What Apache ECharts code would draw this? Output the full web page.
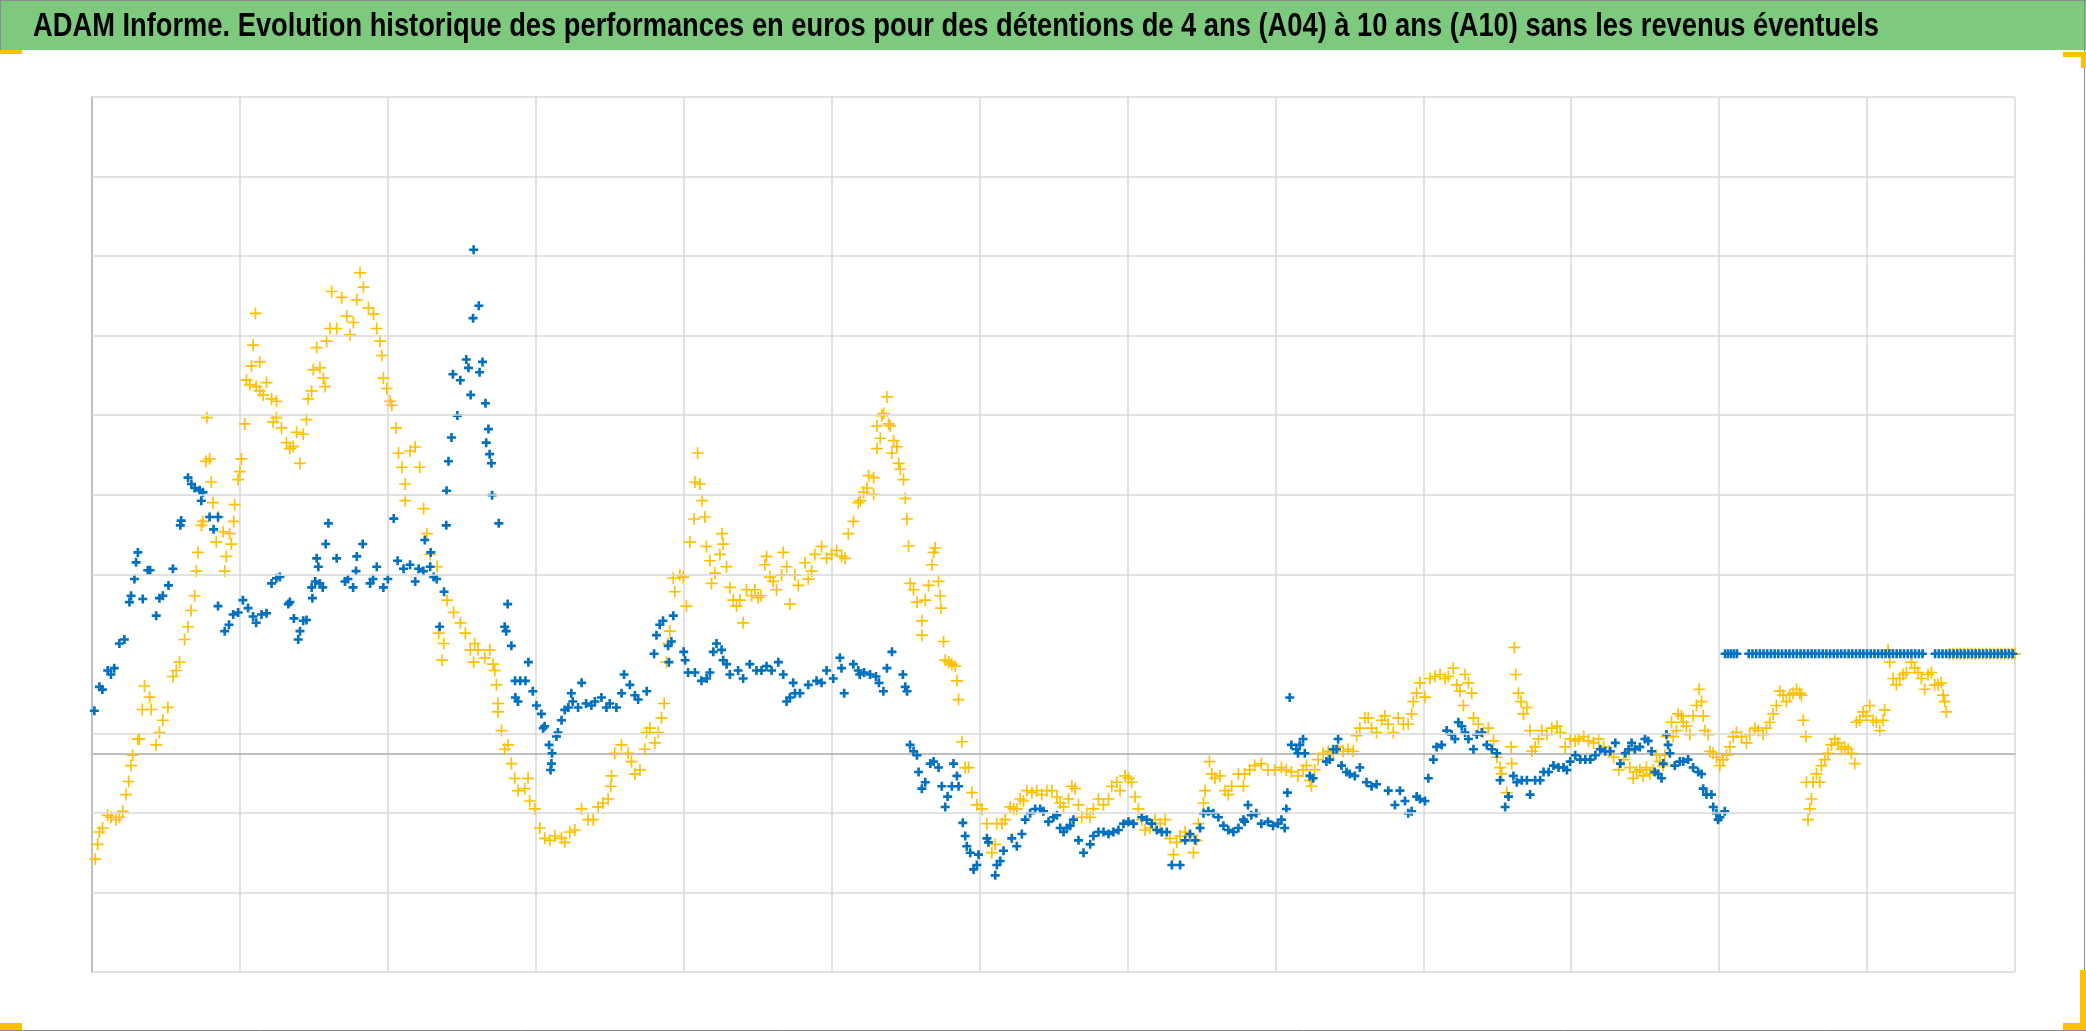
<!DOCTYPE html>
<html>
<head>
<meta charset="utf-8">
<script src="https://cdn.jsdelivr.net/npm/echarts@6/dist/echarts.min.js"></script>
<style>
html,body{margin:0;padding:0;background:#fff;}
#chart{width:2086px;height:1031px;}
</style>
</head>
<body>
<div id="chart"></div>
<script>
const titleText = "ADAM Informe. Evolution historique des performances en euros pour des détentions de 4 ans (A04) à 10 ans (A10) sans les revenus éventuels";

// axis ranges / grid values (no labels are shown in the reference)
const xRange = [0, 13];
const yRange = [-55, 165];
const yGridValues = [-55, -35, -15, 5, 45, 65, 85, 105, 125, 145, 165];

// blue series [x, value]
const blueSeries = [
[0.016,10.7],[0.05,16.7],[0.07,16],[0.106,20.8],[0.128,19.8],[0.15,21.4],[0.185,27.6],[0.219,28.6],[0.253,38],[0.264,39.6],[0.287,43.8],[0.298,48],[0.31,50.5],[0.343,38.8],[0.377,46],[0.393,46],[0.434,34.6],[0.456,39],[0.479,39.6],[0.517,42.2],[0.547,46.4],[0.597,57.3],[0.603,58.5],[0.649,69.3],[0.672,67.7],[0.694,66.7],[0.728,66.1],[0.739,63.5],[0.75,65.6],[0.795,59.4],[0.822,56.3],[0.852,59.4],[0.852,37],[0.897,30.7],[0.926,32.3],[0.954,34.9],[0.988,35.4],
[1.02,38.5],[1.055,36.5],[1.089,34.4],[1.11,32.8],[1.146,34.9],[1.18,35.2],[1.214,42.7],[1.247,44],[1.27,44.3],[1.327,37.5],[1.338,38],[1.365,33.9],[1.394,28.6],[1.406,30.7],[1.428,33.3],[1.45,33.5],[1.485,41.7],[1.49,39],[1.51,43.2],[1.519,49],[1.53,46.9],[1.54,42.7],[1.56,41.7],[1.58,52.6],[1.598,57.8],[1.654,49],[1.71,43.2],[1.73,43.8],[1.765,41.7],[1.79,49.5],[1.785,45.8],[1.83,52.6],[1.88,42.7],[1.9,43.8],[1.925,46.9],[1.97,41.7],
[2.0,43.8],[2.04,59],[2.066,48.4],[2.106,46.4],[2.15,47.4],[2.185,43.2],[2.208,46.4],[2.24,45.8],[2.25,53.6],[2.286,46.9],[2.29,50.5],[2.31,44.3],[2.33,43.8],[2.35,31.8],[2.38,40.6],[2.395,57.3],[2.397,66],[2.41,73.4],[2.43,79.4],[2.44,95.3],[2.47,84.9],[2.49,93.8],[2.53,99],[2.545,96.9],[2.56,90.1],[2.576,109.4],[2.58,126.6],
[2.615,112.5],[2.62,95.8],[2.64,98.4],[2.66,88],[2.665,78.1],[2.68,81.5],[2.688,75.2],[2.7,72.9],[2.705,64.9],[2.75,57.8],[2.79,31.8],[2.8,30.7],[2.81,37.5],[2.835,27],[2.86,18.2],[2.862,14],[2.88,13],[2.895,18.2],[2.93,18.2],[2.95,22.9],[2.98,15.6],
[3.005,12],[3.038,9.9],[3.05,6.3],[3.06,6.8],[3.09,2.1],[3.1,-4.2],[3.106,-2.6],[3.11,0],[3.14,4.2],[3.15,5.2],[3.174,8.3],[3.196,10.9],[3.22,11.5],[3.24,15.1],[3.25,13],[3.286,11.5],[3.31,17.7],[3.34,12.5],[3.376,12],[3.4,13],[3.444,14],[3.478,11.5],[3.5,12.5],[3.545,11.5],[3.58,15.1],[3.597,19.8],[3.636,17.2],[3.67,14.6],[3.692,13.5],[3.75,15.6],[3.8,25],[3.816,29.7],[3.838,32.3],[3.86,33.3],[3.895,27],[3.9,22.9],[3.917,28.1],[3.93,34.6],
[4.0,25.5],[4.01,23.4],[4.03,20.3],[4.076,20.3],[4.12,18.2],[4.155,18.8],[4.177,20.3],[4.2,25.5],[4.222,27.6],[4.256,26],[4.267,23.4],[4.29,22.4],[4.312,19.8],[4.368,20.8],[4.402,18.8],[4.447,22.4],[4.492,20.8],[4.526,20.8],[4.56,21.9],[4.594,20.8],[4.64,22.9],[4.673,19.8],[4.696,13],[4.718,14],[4.74,17.7],[4.752,15.1],[4.786,15.1],[4.842,17.2],[4.898,18.2],[4.932,17.7],[4.966,20.8],
[5.011,18.8],[5.056,24],[5.067,21.4],[5.085,15.1],[5.147,22.4],[5.18,20.8],[5.19,19.8],[5.22,20.3],[5.26,19.8],[5.3,19.3],[5.32,17.7],[5.35,15.6],[5.374,21.4],[5.408,25.5],[5.482,19.8],[5.498,16.7],[5.51,15.6],[5.53,2.1],[5.554,0.5],[5.577,-0.5],[5.588,-4.7],[5.61,-8.9],[5.633,-7.3],[5.667,-2.6],[5.689,-2.1],[5.723,-3.6],[5.745,-8.3],[5.768,-13.5],[5.784,-10.9],[5.813,-8.3],[5.824,-2.6],[5.847,-5.7],[5.858,-8.3],[5.887,-17.5],[5.903,-20.8],[5.914,-23.4],[5.937,-25],[5.96,-29.2],[5.982,-28.1],[5.993,-25.5],
[6.05,-21.4],[6.06,-22.4],[6.106,-30.7],[6.117,-28.1],[6.14,-27.1],[6.162,-24.5],[6.218,-21.4],[6.252,-23.4],[6.286,-20.3],[6.309,-16.7],[6.342,-15.1],[6.376,-14],[6.41,-14],[6.432,-14.6],[6.466,-17.2],[6.5,-16.1],[6.523,-15.6],[6.545,-18.8],[6.568,-19.8],[6.59,-18.8],[6.613,-18.2],[6.635,-16.7],[6.669,-21.9],[6.703,-25],[6.748,-22.9],[6.77,-20.8],[6.804,-19.8],[6.838,-19.8],[6.872,-20.3],[6.905,-19.8],[6.939,-19.3],[6.973,-17.7],
[7.007,-17.2],[7.041,-17.7],[7.097,-16.1],[7.131,-16.7],[7.164,-17.7],[7.198,-19.3],[7.232,-19.8],[7.266,-19.8],[7.3,-28.1],[7.356,-28.1],[7.39,-21.9],[7.423,-20.3],[7.457,-21.9],[7.491,-18.8],[7.514,-15.1],[7.547,-14.6],[7.581,-15.1],[7.615,-16.1],[7.649,-18.2],[7.682,-19.3],[7.716,-19.8],[7.75,-18.8],[7.784,-16.7],[7.792,-17.2],[7.815,-13],[7.837,-15.6],[7.871,-15.1],[7.905,-17.7],[7.95,-17.2],[7.984,-18.2],
[8.018,-17.7],[8.041,-16.7],[8.063,-18.8],[8.074,-14],[8.081,-9.9],[8.097,14],[8.108,2.1],[8.142,1],[8.153,0],[8.165,2.1],[8.187,3.6],[8.199,0],[8.233,-5.7],[8.255,-6.3],[8.345,-2.1],[8.368,-1.6],[8.391,1],[8.413,1],[8.424,3.6],[8.447,-3.1],[8.481,-4.7],[8.503,-5.2],[8.537,-5.7],[8.571,-3.6],[8.616,-7.3],[8.65,-8.3],[8.684,-7.8],[8.763,-9.4],[8.808,-13],[8.842,-9.4],[8.876,-12],[8.898,-15.1],[8.921,-14.6],[8.955,-10.9],[8.977,-11.5],
[9.011,-12],[9.034,-6.3],[9.068,-1.6],[9.09,1.6],[9.124,2.1],[9.158,5.7],[9.192,4.7],[9.214,3.6],[9.237,7.8],[9.26,6.8],[9.282,5.2],[9.305,3.6],[9.339,1],[9.361,4.7],[9.395,5.2],[9.429,2.1],[9.463,1],[9.497,0],[9.519,-6.8],[9.553,-13.5],[9.576,-10.9],[9.609,-5.7],[9.632,-7.3],[9.666,-6.8],[9.7,-6.8],[9.722,-10.4],[9.756,-6.8],[9.79,-6.8],[9.813,-4.7],[9.847,-4.7],[9.88,-3.1],[9.914,-3.6],[9.948,-3.6],[9.971,-4.2],[9.993,-2.1],
[10.027,-0.5],[10.061,-1.6],[10.095,-1.6],[10.129,-1.6],[10.163,-0.5],[10.196,1],[10.23,0.5],[10.264,0.5],[10.298,2.6],[10.332,-2.6],[10.366,0],[10.388,1],[10.408,2.6],[10.43,1],[10.464,1.6],[10.498,3.6],[10.52,3.1],[10.543,0.5],[10.565,-4.7],[10.588,-5.2],[10.61,-6.3],[10.622,-2.6],[10.644,4.7],[10.655,2.1],[10.667,0],[10.7,-3.1],[10.734,-2.1],[10.757,-2.1],[10.79,-1.6],[10.824,-3.6],[10.858,-4.7],[10.881,-5.2],[10.892,-8.9],[10.914,-10.4],[10.948,-10.4],[10.96,-13.5],[10.982,-15.1],[10.993,-16.7],[11.005,-16.1],[11.038,-14.6],
[11.04,25],[11.06,25],[11.08,25],[11.10,25],[11.12,25],[11.20,25],[11.225,25],[11.25,25],[11.275,25],[11.30,25],[11.325,25],[11.35,25],[11.375,25],[11.40,25],[11.425,25],[11.45,25],[11.475,25],[11.50,25],[11.525,25],[11.55,25],[11.575,25],[11.60,25],[11.625,25],[11.65,25],[11.675,25],[11.70,25],[11.725,25],[11.75,25],[11.775,25],[11.80,25],[11.825,25],[11.85,25],[11.875,25],[11.90,25],[11.925,25],[11.95,25],[11.975,25],[12.00,25],[12.025,25],[12.05,25],[12.075,25],[12.10,25],[12.125,25],[12.15,25],[12.175,25],[12.20,25],[12.225,25],[12.25,25],[12.275,25],[12.30,25],[12.325,25],[12.35,25],[12.375,25],
[12.46,25],[12.485,25],[12.51,25],[12.535,25],[12.56,25],[12.585,25],[12.61,25],[12.635,25],[12.66,25],[12.685,25],[12.71,25],[12.735,25],[12.76,25],[12.785,25],[12.81,25],[12.835,25],[12.86,25],[12.885,25],[12.91,25],[12.935,25],[12.96,25],[12.985,25]
];

// yellow series [x, value]
const yellowSeries = [
[0.022,-26.6],[0.038,-22.9],[0.05,-19.8],[0.072,-18.8],[0.106,-15.6],[0.129,-16.1],[0.163,-16.7],[0.185,-16.1],[0.208,-14.6],[0.23,-10.4],[0.248,-7.1],[0.264,-3.1],[0.275,-0.5],[0.31,3.6],[0.32,3.6],[0.34,11],[0.355,16.9],[0.39,14.1],[0.4,11],[0.434,2.1],[0.456,5.2],[0.479,8.3],[0.513,11.5],[0.547,19.3],[0.57,20.8],[0.592,22.9],[0.626,28.6],[0.649,31.8],[0.67,35.9],[0.694,39.6],[0.705,45.8],[0.716,50.5],[0.74,57.3],[0.75,58.3],[0.77,73.4],[0.777,84.4],[0.795,74],[0.806,68.2],[0.818,63],[0.84,53.1],[0.852,59.4],[0.886,55.7],[0.897,45.8],[0.908,49.5],[0.931,55.2],[0.942,52.6],[0.958,58.3],[0.965,62.5],[0.988,68.8],
[1.0,70.8],[1.01,74],[1.033,82.8],[1.044,93.8],[1.067,92.7],[1.078,97.4],[1.089,102.6],[1.105,110.6],[1.11,92.2],[1.134,98.4],[1.134,91.1],[1.157,90.1],[1.18,93.2],[1.214,89.1],[1.225,83.3],[1.247,88.5],[1.247,84.4],[1.281,81.8],[1.315,78.1],[1.338,76.6],[1.36,77.1],[1.383,80.7],[1.406,72.9],[1.428,80.2],[1.45,83.9],[1.462,89.1],[1.485,91.1],[1.496,96.4],[1.519,102],[1.541,96.9],[1.564,94.3],[1.575,92.2],[1.586,103.6],[1.609,106.8],[1.62,116.1],[1.654,106.8],[1.688,114.6],[1.722,109.9],[1.745,105.2],[1.767,108.3],[1.79,114],[1.812,120.8],[1.835,117.2],[1.869,112],[1.903,110.4],[1.925,106.8],[1.948,103.6],[1.959,100],[1.97,94.3],[1.993,91.7],
[2.016,88.5],[2.027,87.5],[2.056,81.8],[2.072,75.5],[2.095,71.9],[2.117,67.7],[2.117,63.5],[2.151,76],[2.185,77],[2.215,71.9],[2.242,61.5],[2.264,55.2],[2.287,50],[2.332,46.9],[2.344,30.2],[2.366,23.4],[2.378,27.6],[2.4,38.5],[2.445,35.4],[2.49,32.8],[2.524,30.2],[2.558,26],[2.58,22.9],[2.587,27.6],[2.61,26],[2.655,24],[2.689,26],[2.711,22.4],[2.723,20.8],[2.734,17.2],[2.745,12.5],[2.745,10.4],[2.768,5.7],[2.79,1],[2.813,2.1],[2.835,-2.6],[2.858,-6.3],[2.88,-9.4],[2.926,-8.9],[2.948,-6.3],[2.959,-12],[2.993,-14],
[3.027,-18.8],[3.061,-21.4],[3.095,-21.9],[3.129,-20.8],[3.174,-21.4],[3.196,-22.4],[3.23,-19.8],[3.264,-19.3],[3.309,-14],[3.354,-16.7],[3.388,-16.7],[3.422,-13.5],[3.455,-12.5],[3.489,-11.5],[3.507,-8.3],[3.512,-5.7],[3.534,0],[3.579,2.1],[3.625,0],[3.647,-2.1],[3.67,-5.2],[3.704,-4.2],[3.737,1],[3.749,5.2],[3.771,6.3],[3.805,2.6],[3.828,5.2],[3.85,8.9],[3.868,12.5],[3.884,22.9],[3.895,27.6],[3.906,30.7],[3.929,44],[3.94,40.6],[3.974,44.8],[3.997,44.3],
[4.019,37],[4.042,53.1],[4.071,58.9],[4.076,68.2],[4.094,75.5],[4.109,67.7],[4.125,63.5],[4.143,59.4],[4.154,52],[4.177,48.4],[4.188,42.7],[4.211,45.3],[4.245,50],[4.26,55.2],[4.267,52.6],[4.29,46.9],[4.312,41.7],[4.335,38.5],[4.357,37],[4.38,38.5],[4.402,32.8],[4.425,41.1],[4.459,39.6],[4.481,41.1],[4.504,39.1],[4.522,39.6],[4.549,47.4],[4.56,49.5],[4.583,44.3],[4.605,43.2],[4.628,41.1],[4.662,44.8],[4.673,50.5],[4.696,46.9],[4.718,37.5],[4.752,44.8],[4.775,42.2],[4.82,47.9],[4.842,43.8],[4.865,45.8],[4.887,50],[4.932,52],[4.966,49],
[5.0,50],[5.034,51],[5.068,49.5],[5.09,49],[5.113,55.2],[5.147,58.3],[5.18,63],[5.194,63.5],[5.216,65.6],[5.239,66.7],[5.25,69.8],[5.284,69.3],[5.284,65.1],[5.306,76.6],[5.306,82.3],[5.329,79.2],[5.34,84.9],[5.351,85.4],[5.374,89.6],[5.385,82.8],[5.396,82.3],[5.408,75.5],[5.419,78.6],[5.441,77.1],[5.453,72.9],[5.464,71.4],[5.486,68.8],[5.498,64.1],[5.509,58.9],[5.52,52.1],[5.532,42.7],[5.554,41.1],[5.577,38],[5.61,33.3],[5.61,29.7],[5.633,38.5],[5.655,42.2],[5.678,47.4],[5.689,50.5],[5.7,51.6],[5.723,43.2],[5.734,39.6],[5.739,36.5],[5.757,28.1],[5.768,23.4],[5.791,22.9],[5.813,22.4],[5.836,21.9],[5.847,18.2],[5.858,13.5],[5.881,2.9],[5.903,-3.6],[5.926,-3.6],[5.948,-9.9],[5.982,-13],
[6.016,-14],[6.05,-17.7],[6.083,-25],[6.106,-22.9],[6.117,-17.7],[6.151,-17.7],[6.173,-16.7],[6.207,-13.5],[6.23,-14],[6.252,-14],[6.275,-11.5],[6.297,-12],[6.32,-9.4],[6.354,-9.9],[6.387,-9.4],[6.421,-10.4],[6.455,-9.4],[6.489,-9.4],[6.523,-11],[6.545,-12.5],[6.568,-13.5],[6.601,-11.5],[6.624,-8.3],[6.646,-8.9],[6.669,-13],[6.691,-16.1],[6.725,-15.1],[6.748,-16.1],[6.77,-14],[6.804,-11.5],[6.838,-13],[6.872,-11.5],[6.894,-8.3],[6.928,-7.3],[6.95,-9.4],[6.984,-5.7],
[7.007,-6.3],[7.029,-7.3],[7.052,-11],[7.074,-14],[7.097,-16.7],[7.119,-19.3],[7.153,-18.8],[7.187,-16.7],[7.221,-17.7],[7.255,-16.7],[7.288,-21.4],[7.311,-25.5],[7.333,-22.4],[7.356,-20.8],[7.39,-19.8],[7.423,-20.8],[7.446,-25],[7.468,-21.9],[7.48,-17.7],[7.514,-12.5],[7.525,-9.4],[7.554,-2.1],[7.57,-5.2],[7.592,-6.3],[7.626,-5.7],[7.66,-9.4],[7.682,-10.4],[7.705,-8.3],[7.75,-5.2],[7.784,-8.3],[7.792,-5.2],[7.826,-4.2],[7.86,-3.1],[7.905,-2.6],[7.95,-4.2],[7.995,-4.2],
[8.041,-3.6],[8.074,-4.2],[8.108,-4.7],[8.153,-5.7],[8.187,-4.2],[8.21,-3.1],[8.233,-6.8],[8.244,-8.3],[8.266,-4.2],[8.289,-1.6],[8.323,0],[8.357,0.5],[8.391,0],[8.424,1.6],[8.458,0.5],[8.492,1],[8.526,0.5],[8.549,4.4],[8.571,6.3],[8.605,8.9],[8.628,8.9],[8.65,6.3],[8.684,5.2],[8.718,8.3],[8.74,9.4],[8.763,7.3],[8.797,5.2],[8.831,8.9],[8.865,7.3],[8.898,7.3],[8.921,9.9],[8.932,13],[8.955,15.1],[8.977,17.7],
[9.011,14.1],[9.045,18.8],[9.079,19.3],[9.113,19.8],[9.147,18.8],[9.169,19.3],[9.203,21.4],[9.226,17.2],[9.248,15.6],[9.271,12],[9.282,19.8],[9.305,17.7],[9.327,15.1],[9.339,8.9],[9.372,7.3],[9.406,5.2],[9.44,6.3],[9.474,3.1],[9.497,-1],[9.519,-3.6],[9.53,-5.2],[9.564,-9.9],[9.594,1.6],[9.598,-2.6],[9.616,26.6],[9.625,19.8],[9.643,15.1],[9.661,13],[9.677,9.9],[9.7,11.5],[9.722,5.7],[9.734,0.5],[9.756,1.6],[9.779,3.6],[9.801,5.7],[9.835,4.7],[9.869,6.3],[9.903,6.8],[9.926,5.2],[9.959,1.6],[9.993,3.6],
[10.027,3.1],[10.05,3.6],[10.084,4.2],[10.117,3.1],[10.151,2.6],[10.185,3.6],[10.219,1.6],[10.253,0.5],[10.287,-1],[10.321,-4.2],[10.354,-1.6],[10.388,0.5],[10.396,-3.6],[10.419,-6.3],[10.441,-4.7],[10.464,-4.2],[10.486,-5.7],[10.509,-3.6],[10.532,-5.2],[10.554,-4.2],[10.577,-0.5],[10.599,-2.1],[10.622,-3.1],[10.633,-0.5],[10.644,4.2],[10.678,7.8],[10.689,4.2],[10.712,5.7],[10.723,9.9],[10.745,9.4],[10.757,7.8],[10.779,6.8],[10.802,4.7],[10.824,9.4],[10.847,12],[10.865,16.1],[10.881,13],[10.892,9.4],[10.903,5.7],[10.926,4.7],[10.937,0.5],[10.959,0],[10.982,-1],
[11.005,-3.1],[11.027,-1.6],[11.05,-0.5],[11.072,1.6],[11.095,4.2],[11.117,5.2],[11.151,4.2],[11.185,2.6],[11.207,4.7],[11.241,6.3],[11.264,5.7],[11.297,4.7],[11.32,6.3],[11.342,7.8],[11.365,9.9],[11.387,12],[11.41,15.6],[11.432,14.6],[11.455,13],[11.477,14.6],[11.5,15.1],[11.523,16.1],[11.545,15.1],[11.556,14.6],[11.568,8.3],[11.586,4.2],[11.59,-7.3],[11.601,-16.7],[11.613,-14],[11.624,-11.5],[11.635,-7.3],[11.658,-5.2],[11.68,-7.3],[11.691,-3.1],[11.714,-1.6],[11.736,0],[11.759,2.1],[11.782,3.6],[11.804,2.6],[11.827,1],[11.849,1.6],[11.872,1],[11.894,0],[11.917,-2.6],[11.928,7.8],[11.95,8.3],[11.973,10.4],[11.995,9.4],
[12.018,12],[12.041,8.3],[12.063,7.8],[12.086,5.7],[12.108,8.3],[12.119,10.9],[12.142,26],[12.153,22.9],[12.176,18.8],[12.198,17.2],[12.221,18.8],[12.243,19.8],[12.266,20.3],[12.3,22.9],[12.322,21.4],[12.345,20.3],[12.367,18.8],[12.39,16.1],[12.412,19.8],[12.435,20.3],[12.457,17.2],[12.48,17.2],[12.502,17.7],[12.514,14.6],[12.525,13],[12.536,10.4],
[12.555,25],[12.58,25],[12.605,25],[12.63,25],[12.655,25],[12.68,25],[12.705,25],[12.73,25],[12.755,25],[12.78,25],[12.805,25],[12.83,25],[12.855,25],[12.88,25],[12.905,25],[12.93,25],[12.955,25],[12.98,25],[13.0,25]
];

const BLUE = '#0070c0';
const YELLOW = '#ffc000';
const GRID = '#d9d9d9';
const plusThick = 'path://M3.55,0H6.45V3.55H10V6.45H6.45V10H3.55V6.45H0V3.55H3.55Z';
const plusThin = 'path://M4.3,0H5.7V4.3H10V5.7H5.7V10H4.3V5.7H0V4.3H4.3Z';

// measure title to fit its width in the reference
const titleFont = 'bold 34px "Liberation Sans Narrow", "Liberation Sans", Arial, sans-serif';
const mctx = document.createElement('canvas').getContext('2d');
mctx.font = titleFont;
const titleW = mctx.measureText(titleText).width;
const titleScale = 1846 / titleW;

const chart = echarts.init(document.getElementById('chart'), null, {renderer: 'canvas'});
const option = {
  animation: false,
  backgroundColor: '#ffffff',
  grid: {left: 92, right: 71, top: 97, bottom: 59, containLabel: false},
  xAxis: {
    type: 'value', min: xRange[0], max: xRange[1], interval: 1,
    axisLine: {show: true, onZero: true, lineStyle: {color: '#bfbfbf', width: 2}},
    axisTick: {show: false}, axisLabel: {show: false},
    splitLine: {show: true, lineStyle: {color: GRID, width: 1.5}}
  },
  yAxis: {
    type: 'value', min: yRange[0], max: yRange[1],
    axisLine: {show: true, lineStyle: {color: '#bfbfbf', width: 2}},
    axisTick: {show: false}, axisLabel: {show: false},
    splitLine: {show: false}
  },
  series: [
    {
      type: 'scatter', name: 'grid', data: [], z: 1, silent: true,
      markLine: {
        silent: true, symbol: ['none', 'none'], label: {show: false},
        lineStyle: {color: GRID, width: 1.5, type: 'solid'},
        emphasis: {disabled: true},
        data: yGridValues.map(v => ({yAxis: v}))
      }
    },
    {
      type: 'scatter', name: 'A04', data: yellowSeries, z: 3,
      symbol: plusThin, symbolSize: 12,
      itemStyle: {color: YELLOW, opacity: 1}
    },
    {
      type: 'scatter', name: 'A10', data: blueSeries, z: 4,
      symbol: plusThick, symbolSize: 9,
      itemStyle: {color: BLUE, opacity: 1}
    }
  ],
  graphic: [
    {type: 'rect', z: 100, shape: {x: 0, y: 0, width: 2086, height: 50}, style: {fill: '#7dc97d'}},
    {type: 'line', z: 101, shape: {x1: 0, y1: 0.5, x2: 2086, y2: 0.5}, style: {stroke: '#8c8c8c', lineWidth: 1}},
    {type: 'line', z: 101, shape: {x1: 0.5, y1: 0, x2: 0.5, y2: 50}, style: {stroke: '#8c8c8c', lineWidth: 1}},
    {type: 'line', z: 101, shape: {x1: 0, y1: 1030.5, x2: 2086, y2: 1030.5}, style: {stroke: '#8c8c8c', lineWidth: 1}},
    {type: 'line', z: 101, shape: {x1: 2084.5, y1: 0, x2: 2084.5, y2: 1031}, style: {stroke: '#8c8c8c', lineWidth: 1}},
    {type: 'text', z: 102, x: 33, y: 27, scaleX: titleScale, scaleY: 1,
      style: {text: titleText, font: titleFont, fill: '#000000', align: 'left', verticalAlign: 'middle'}},
    {type: 'rect', z: 103, shape: {x: 0, y: 50, width: 22, height: 4}, style: {fill: YELLOW}},
    {type: 'rect', z: 103, shape: {x: 2063, y: 52, width: 23, height: 5}, style: {fill: YELLOW}},
    {type: 'rect', z: 103, shape: {x: 2081, y: 52, width: 5, height: 16}, style: {fill: YELLOW}},
    {type: 'rect', z: 103, shape: {x: 0, y: 1023, width: 22, height: 7}, style: {fill: YELLOW}},
    {type: 'rect', z: 103, shape: {x: 2063, y: 1023, width: 23, height: 7}, style: {fill: YELLOW}},
    {type: 'rect', z: 103, shape: {x: 2080, y: 970, width: 6, height: 60}, style: {fill: YELLOW}}
  ]
};
chart.setOption(option);
</script>
</body>
</html>
